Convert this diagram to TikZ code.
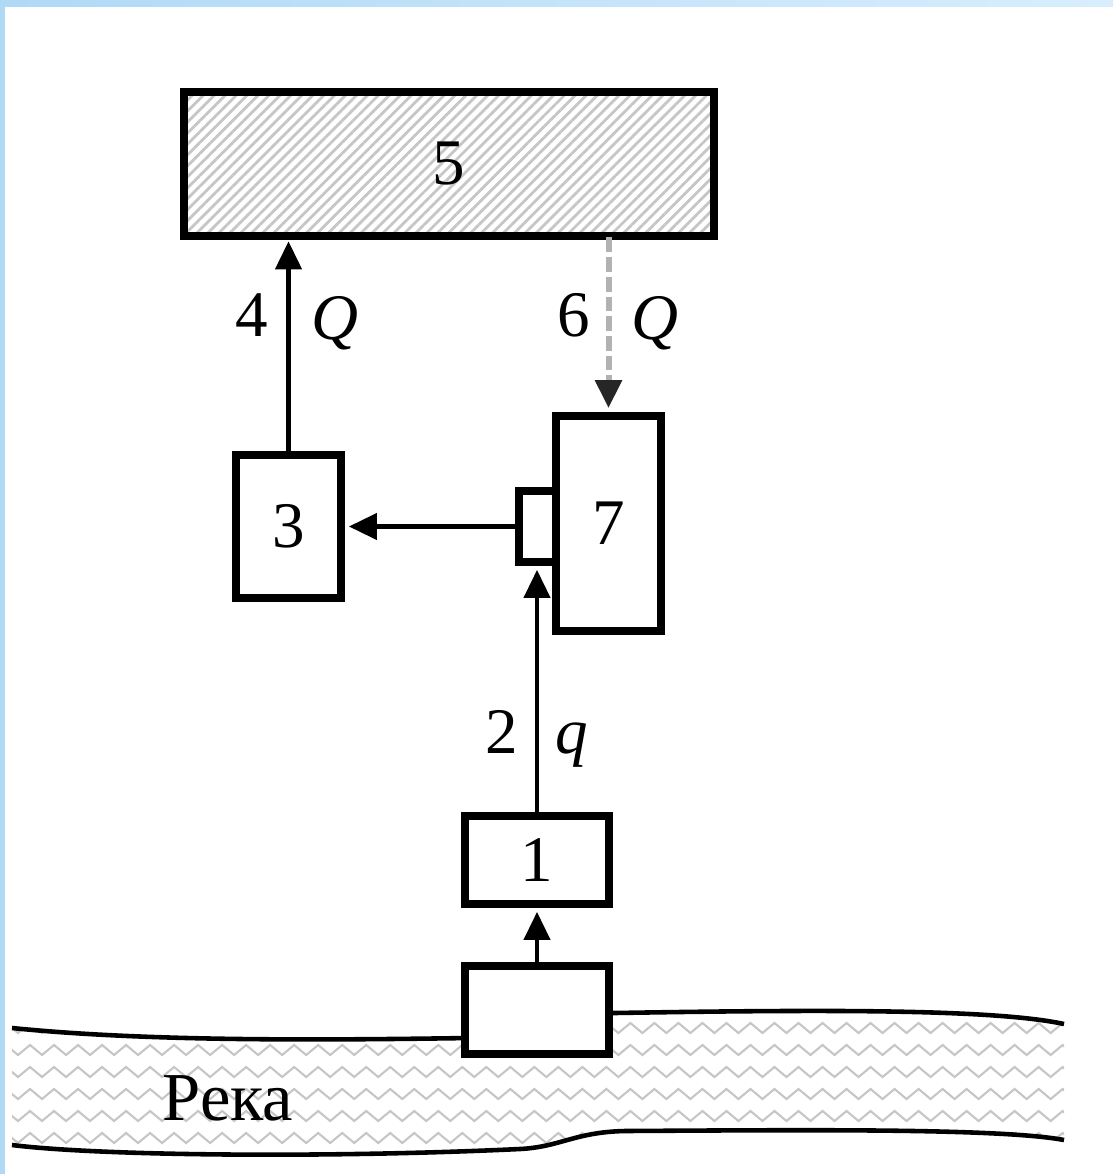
\documentclass[tikz,border=0pt]{standalone}
\usepackage{fontspec}
\setmainfont{Liberation Serif}
\usetikzlibrary{arrows.meta,positioning,patterns.meta,decorations.pathmorphing}
\definecolor{frameblue}{RGB}{176,217,246}
\definecolor{frameblue2}{RGB}{216,238,252}

\begin{document}
\begin{tikzpicture}[x=0.01cm, y=-0.01cm, font=\fontsize{18.5}{22}\selectfont]
    \tikzstyle{unit}=[draw, line width=0.08cm, fill=white, inner sep=0pt]
    \tikzstyle{flow}=[-{Triangle[length=0.28cm, width=0.26cm]}, line width=1.2pt, shorten >=1.1pt]
    \tikzstyle{lbl}=[anchor=base, inner sep=0pt]
    \tikzstyle{bank}=[line width=1.3pt]
    \tikzstyle{wave}=[gray!45, line width=0.6pt, decorate, decoration={zigzag, segment length=0.24cm, amplitude=0.05cm}]
    \useasboundingbox (0,0) rectangle (1113,1174);
    % screen frame
    \fill[left color=frameblue, right color=frameblue2] (0,0) rectangle (1113,7);
    \fill[frameblue] (0,0) rectangle (5,1174);
    % river
    \begin{scope}
      \clip (12,1028) .. controls (150,1042) and (330,1040) .. (470,1038) .. controls (530,1037) and (550,1013) .. (615,1013) .. controls (800,1010) and (990,1008) .. (1064,1024)
        -- (1064,1140) .. controls (1000,1128) and (800,1130) .. (625,1131) .. controls (575,1132) and (560,1147) .. (520,1149) .. controls (330,1158) and (100,1156) .. (12,1145) -- cycle;
      \foreach \y in {1028,1050,...,1150}
        \draw[wave] (0,\y) -- (1113,\y);
    \end{scope}
    \draw[bank] (12,1028) .. controls (150,1042) and (330,1040) .. (470,1038) .. controls (530,1037) and (550,1013) .. (615,1013) .. controls (800,1010) and (990,1008) .. (1064,1024);
    \draw[bank] (1064,1140) .. controls (1000,1128) and (800,1130) .. (625,1131) .. controls (575,1132) and (560,1147) .. (520,1149) .. controls (330,1158) and (100,1156) .. (12,1145);
    \node[lbl, font=\fontsize{19.5}{23}\selectfont] (river) at (228,1120) {Река};
    % units
    \node[unit, minimum width=5.30cm, minimum height=1.44cm, pattern={Lines[angle=45, distance=2.2pt, line width=0.8pt]}, pattern color=gray!45] (store) at (449,164) {5};
    \node[unit, minimum width=1.05cm, minimum height=1.43cm] (user) at (288.5,526.5) {3};
    \node[unit, minimum width=0.37cm, minimum height=0.71cm] (tap) at (537,526.5) {};
    \node[unit, minimum width=1.05cm, minimum height=2.15cm] (tower) at (608.5,523.5) {7};
    \node[unit, minimum width=1.44cm, minimum height=0.88cm] (pump) at (537,860) {1};
    \node[unit, minimum width=1.44cm, minimum height=0.88cm] (intake) at (537,1010) {};
    % flows
    \draw[flow] (user.north) -- (user.north |- store.south);
    \draw[flow, gray!60, line width=1.7pt, dash pattern=on 4.2pt off 1.4pt, -{Triangle[length=0.28cm, width=0.26cm, color=black!85]}] (tower.north |- store.south) -- (tower.north);
    \draw[flow] (tap.west) -- (user.east);
    \draw[flow] (pump.north) -- (tap.south);
    \draw[flow] (intake.north) -- (pump.south);
    % labels
    \node[lbl] (n4) at (252,337) {4};
    \node[lbl] (q4) at (335,340) {\textit{Q}};
    \node[lbl] (n6) at (574,337) {6};
    \node[lbl] (q6) at (655,340) {\textit{Q}};
    \node[lbl] (n2) at (502,753) {2};
    \node[lbl] (q2) at (572,753) {\textit{q}};
\end{tikzpicture}
\end{document}
